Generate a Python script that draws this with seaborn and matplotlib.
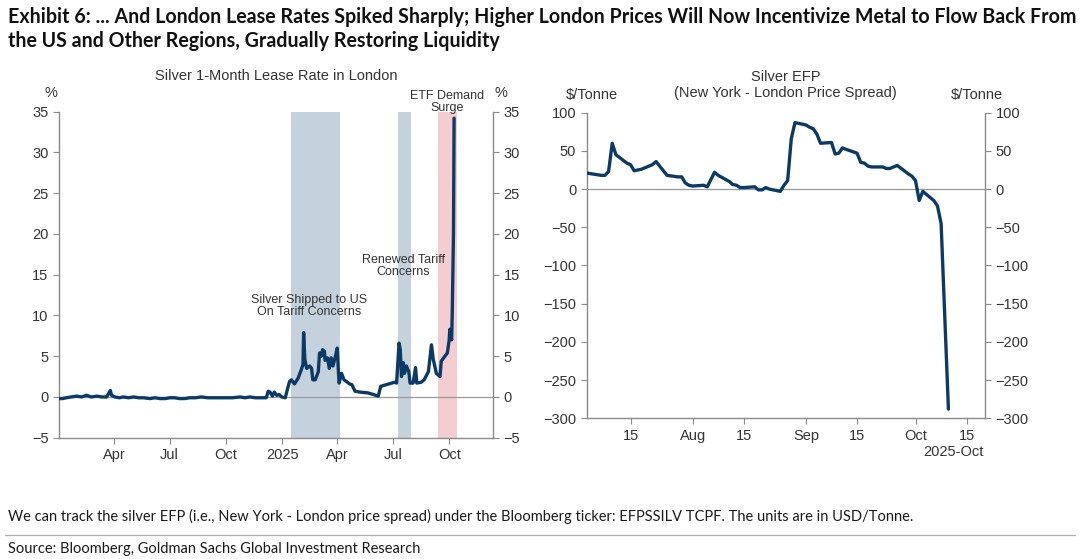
import pandas as pd
import numpy as np
import seaborn as sns
import matplotlib.pyplot as plt
from matplotlib.lines import Line2D

# --- data: silver 1-month lease rate in London (%) ---
lease_dates = [
    "2024-01-02", "2024-01-08", "2024-01-14", "2024-01-22", "2024-01-31", "2024-02-08",
    "2024-02-16", "2024-02-24", "2024-03-04", "2024-03-12", "2024-03-20", "2024-03-26",
    "2024-03-28", "2024-04-02", "2024-04-10", "2024-04-16", "2024-04-25", "2024-05-03",
    "2024-05-11", "2024-05-19", "2024-05-30", "2024-06-07", "2024-06-15", "2024-06-24",
    "2024-07-01", "2024-07-09", "2024-07-17", "2024-07-25", "2024-08-03", "2024-08-12",
    "2024-08-22", "2024-09-01", "2024-09-10", "2024-09-20", "2024-10-02", "2024-10-12",
    "2024-10-24", "2024-11-01", "2024-11-09", "2024-11-18", "2024-11-28", "2024-12-06",
    "2024-12-09", "2024-12-12", "2024-12-16", "2024-12-19", "2024-12-23", "2024-12-27",
    "2024-12-31", "2025-01-06", "2025-01-09", "2025-01-13", "2025-01-16", "2025-01-21",
    "2025-01-27", "2025-02-01", "2025-02-04", "2025-02-05", "2025-02-07", "2025-02-10",
    "2025-02-15", "2025-02-18", "2025-02-20", "2025-02-24", "2025-03-01", "2025-03-03",
    "2025-03-06", "2025-03-08", "2025-03-11", "2025-03-12", "2025-03-16", "2025-03-19",
    "2025-03-22", "2025-03-25", "2025-03-29", "2025-04-01", "2025-04-03", "2025-04-04",
    "2025-04-08", "2025-04-12", "2025-04-16", "2025-04-21", "2025-04-25", "2025-04-30",
    "2025-05-08", "2025-05-21", "2025-05-30", "2025-06-07", "2025-06-11", "2025-06-20",
    "2025-06-29", "2025-07-04", "2025-07-07", "2025-07-11", "2025-07-13", "2025-07-15",
    "2025-07-18", "2025-07-20", "2025-07-23", "2025-07-27", "2025-07-29", "2025-08-03",
    "2025-08-07", "2025-08-09", "2025-08-16", "2025-08-21", "2025-08-28", "2025-09-02",
    "2025-09-05", "2025-09-10", "2025-09-16", "2025-09-18", "2025-09-24", "2025-09-28",
    "2025-10-01", "2025-10-02", "2025-10-05", "2025-10-06", "2025-10-08", "2025-10-09",
]
lease_values = [
    -0.2, -0.2, -0.1, 0.0, 0.1, 0.0,
    0.2, 0.0, 0.1, 0.0, 0.0, 0.8,
    0.2, 0.0, -0.1, 0.0, -0.1, 0.0,
    -0.1, -0.1, -0.2, -0.1, -0.2, -0.2,
    -0.1, -0.1, -0.2, -0.2, -0.1, -0.1,
    0.0, -0.1, -0.1, -0.1, -0.1, -0.1,
    0.0, -0.1, 0.0, -0.1, -0.1, -0.1,
    0.7, 0.6, 0.1, 0.6, 0.2, 0.3,
    0.0, -0.1, 0.8, 1.9, 2.1, 1.6,
    2.3, 3.3, 4.0, 7.9, 4.6, 3.5,
    3.8, 3.5, 2.1, 2.1, 3.1, 5.4,
    5.0, 5.8, 5.6, 4.5, 4.8, 3.5,
    4.8, 3.8, 5.0, 6.0, 2.9, 1.7,
    2.9, 2.1, 1.9, 1.6, 1.5, 0.7,
    0.6, 0.5, 0.3, 0.1, 1.3, 1.5,
    1.7, 1.8, 1.7, 6.6, 5.8, 2.5,
    4.2, 2.9, 3.8, 3.1, 1.7, 1.7,
    3.6, 1.7, 1.8, 2.1, 3.1, 6.4,
    4.6, 2.9, 2.5, 4.4, 5.0, 5.4,
    7.0, 8.3, 7.0, 10.3, 20.0, 34.2,
]

# shaded episodes (start, end, colour key)
shade_starts = ["2025-01-16", "2025-07-10", "2025-09-13"]
shade_ends = ["2025-04-06", "2025-07-31", "2025-10-13"]
shade_kinds = ["tariff", "tariff", "etf"]

# --- data: silver EFP, New York - London ($/tonne) ---
efp_dates = [
    "2025-07-03", "2025-07-07", "2025-07-08", "2025-07-09", "2025-07-10", "2025-07-11",
    "2025-07-14", "2025-07-15", "2025-07-16", "2025-07-18", "2025-07-21", "2025-07-22",
    "2025-07-23", "2025-07-25", "2025-07-28", "2025-07-29", "2025-07-30", "2025-07-31",
    "2025-08-01", "2025-08-04", "2025-08-05", "2025-08-07", "2025-08-08", "2025-08-11",
    "2025-08-12", "2025-08-13", "2025-08-14", "2025-08-15", "2025-08-18", "2025-08-19",
    "2025-08-20", "2025-08-21", "2025-08-22", "2025-08-25", "2025-08-26", "2025-08-27",
    "2025-08-28", "2025-08-29", "2025-09-01", "2025-09-02", "2025-09-03", "2025-09-04",
    "2025-09-05", "2025-09-08", "2025-09-09", "2025-09-10", "2025-09-11", "2025-09-12",
    "2025-09-15", "2025-09-16", "2025-09-17", "2025-09-18", "2025-09-19", "2025-09-22",
    "2025-09-23", "2025-09-24", "2025-09-25", "2025-09-26", "2025-09-29", "2025-09-30",
    "2025-10-01", "2025-10-02", "2025-10-03", "2025-10-06", "2025-10-07", "2025-10-08",
    "2025-10-10",
]
efp_values = [
    21, 18, 18, 23, 60, 45,
    34, 32, 24, 26, 32, 36,
    30, 18, 16, 16, 8, 5,
    4, 5, 3, 22, 18, 10,
    6, 5, 2, 2, 3, -1,
    -1, 2, 0, -3, 5, 11,
    66, 87, 84, 81, 79, 72,
    60, 61, 46, 47, 54, 52,
    47, 35, 34, 30, 29, 29,
    27, 27, 29, 31, 20, 17,
    11, -15, -3, -15, -22, -45,
    -288,
]

left_ticks = ["2024-04-01", "2024-07-01", "2024-10-01", "2025-01-01",
              "2025-04-01", "2025-07-01", "2025-10-01"]
left_tick_labels = ["Apr", "Jul", "Oct", "2025", "Apr", "Jul", "Oct"]
right_ticks = ["2025-07-15", "2025-08-01", "2025-08-15", "2025-09-01",
               "2025-09-15", "2025-10-01", "2025-10-15"]
right_tick_labels = ["15", "Aug", "15", "Sep", "15", "Oct", "15"]

lease_df = pd.DataFrame({"date": pd.to_datetime(lease_dates), "rate": lease_values})
efp_df = pd.DataFrame({"date": pd.to_datetime(efp_dates), "efp": efp_values})

# --- style ---
sns.set_style("ticks")
plt.rcParams["font.family"] = ["Liberation Sans", "DejaVu Sans"]
navy = "#0c3a66"
grey = "#8a8a8a"
txt = "#333333"
shade_col = {"tariff": "#c5d2dd", "etf": "#f3cdd1"}

fig = plt.figure(figsize=(10.8, 5.59), dpi=100)
ax1 = fig.add_axes([0.0546, 0.2170, 0.4021, 0.5832])
ax2 = fig.add_axes([0.5432, 0.2517, 0.3688, 0.5467])


def style_axis(ax):
    for side in ["left", "right", "bottom"]:
        ax.spines[side].set_visible(True)
        ax.spines[side].set_color(grey)
        ax.spines[side].set_linewidth(1.0)
    ax.spines["top"].set_visible(False)
    ax.tick_params(axis="both", direction="out", color=grey, length=4,
                   labelsize=10.5, labelcolor=txt)
    ax.tick_params(axis="y", left=True, right=True, labelleft=True, labelright=True)
    ax.axhline(0, color="#9a9a9a", lw=0.9, zorder=1)
    ax.set_xlabel("")
    ax.set_ylabel("")
    ax.grid(False)


# --- left: lease rate ---
for s, e, k in zip(shade_starts, shade_ends, shade_kinds):
    ax1.axvspan(pd.Timestamp(s), pd.Timestamp(e), color=shade_col[k], lw=0, zorder=0)
sns.lineplot(data=lease_df, x="date", y="rate", ax=ax1, color=navy, lw=2.4, zorder=3)
ax1.set_xlim(pd.Timestamp("2024-01-02"), pd.Timestamp("2025-12-12"))
ax1.set_ylim(-5, 35)
ax1.set_yticks(np.arange(-5, 36, 5))
ax1.set_xticks(pd.to_datetime(left_ticks))
ax1.set_xticklabels(left_tick_labels)
style_axis(ax1)

ax1.text(pd.Timestamp("2025-02-14"), 11.2, "Silver Shipped to US\nOn Tariff Concerns",
         ha="center", va="center", fontsize=9, color=txt, linespacing=1.0)
ax1.text(pd.Timestamp("2025-07-18"), 16.1, "Renewed Tariff\nConcerns",
         ha="center", va="center", fontsize=9, color=txt, linespacing=1.0)
ax1.text(pd.Timestamp("2025-09-28"), 36.2, "ETF Demand\nSurge",
         ha="center", va="center", fontsize=9, color=txt, linespacing=1.0, clip_on=False)

fig.text(0.2557, 1 - 76 / 559, "Silver 1-Month Lease Rate in London",
         ha="center", va="center", fontsize=10.5, color=txt)
fig.text(51 / 1080, 1 - 93 / 559, "%", ha="center", va="center", fontsize=10.5, color=txt)
fig.text(501 / 1080, 1 - 93 / 559, "%", ha="center", va="center", fontsize=10.5, color=txt)

# --- right: EFP ---
sns.lineplot(data=efp_df, x="date", y="efp", ax=ax2, color=navy, lw=2.4, zorder=3)
ax2.set_xlim(pd.Timestamp("2025-07-03"), pd.Timestamp("2025-10-20"))
ax2.set_ylim(-300, 100)
ax2.set_yticks(np.arange(-300, 101, 50))
ax2.set_xticks(pd.to_datetime(right_ticks))
ax2.set_xticklabels(right_tick_labels)
style_axis(ax2)

fig.text(785.7 / 1080, 1 - 76.7 / 559, "Silver EFP", ha="center", va="center",
         fontsize=10.5, color=txt)
fig.text(785.7 / 1080, 1 - 93.3 / 559, "(New York - London Price Spread)",
         ha="center", va="center", fontsize=10.5, color=txt)
fig.text(591.7 / 1080, 1 - 95 / 559, "$/Tonne", ha="center", va="center",
         fontsize=10.5, color=txt)
fig.text(977 / 1080, 1 - 95 / 559, "$/Tonne", ha="center", va="center",
         fontsize=10.5, color=txt)
fig.text(953 / 1080, 1 - 451.7 / 559, "2025-Oct", ha="center", va="center",
         fontsize=10.5, color=txt)

# --- header and footer ---
head_font = ["Lato", "DejaVu Sans"]
fig.text(8 / 1080, 1 - 17 / 559,
         "Exhibit 6: ... And London Lease Rates Spiked Sharply; Higher London Prices "
         "Will Now Incentivize Metal to Flow Back From",
         ha="left", va="center", fontsize=14.1, fontweight="bold", color="#111111",
         family=head_font)
fig.text(8 / 1080, 1 - 41 / 559,
         "the US and Other Regions, Gradually Restoring Liquidity",
         ha="left", va="center", fontsize=14.1, fontweight="bold", color="#111111",
         family=head_font)
fig.text(8 / 1080, 1 - 516.7 / 559,
         "We can track the silver EFP (i.e., New York - London price spread) under the "
         "Bloomberg ticker: EFPSSILV TCPF. The units are in USD/Tonne.",
         ha="left", va="center", fontsize=10.5, color="#1a1a1a", family=head_font)
fig.text(8 / 1080, 1 - 549 / 559,
         "Source: Bloomberg, Goldman Sachs Global Investment Research",
         ha="left", va="center", fontsize=10.5, color="#1a1a1a", family=head_font)
fig.add_artist(Line2D([5 / 1080, 1075 / 1080], [1 - 535 / 559, 1 - 535 / 559],
                      transform=fig.transFigure, color="#b0b0b0", lw=0.9))

fig.savefig("out.png", dpi=100, facecolor="white")
